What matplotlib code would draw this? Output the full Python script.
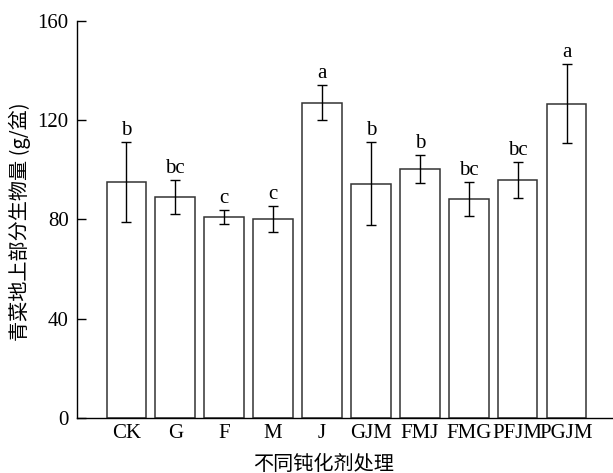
import matplotlib
matplotlib.use('Agg')
import matplotlib.pyplot as plt
import numpy as np

plt.rcParams['font.family'] = ['Liberation Serif', 'Noto Sans CJK SC']

# 数据
treatments = ['CK', 'G', 'F', 'M', 'J', 'GJM', 'FMJ', 'FMG', 'PFJM', 'PGJM']
biomass = [95.0, 89.0, 81.0, 80.0, 127.0, 94.4, 100.3, 88.2, 96.0, 126.6]
err = [16.0, 7.0, 2.7, 5.2, 7.0, 16.7, 5.5, 6.7, 7.3, 16.0]
letters = ['b', 'bc', 'c', 'c', 'a', 'b', 'b', 'bc', 'bc', 'a']
yticks = [0, 40, 80, 120, 160]

fig = plt.figure(figsize=(6.13, 4.73), dpi=100)
ax = fig.add_axes([0.1256, 0.1163, 0.8744, 0.8399])

x = np.arange(len(treatments))
ax.bar(x, biomass, width=0.81, color='white', edgecolor='#333333', linewidth=1.1)
ax.errorbar(x, biomass, yerr=err, fmt='none', ecolor='black',
            elinewidth=1.0, capsize=3.8, capthick=1.0)

# 显著性字母
for xi, y, e, s in zip(x, biomass, err, letters):
    ax.text(xi, y + e + 0.8, s, ha='center', va='bottom', fontsize=15)

ax.set_xlim(-1.01, 9.95)
ax.set_ylim(0, 160)
ax.set_yticks(yticks)
ax.set_xticks(x)
ax.set_xticklabels(treatments, fontsize=15)
ax.tick_params(axis='y', direction='in', length=6.5, width=1.0, pad=6, labelsize=15)
ax.tick_params(axis='x', length=0, pad=4)

ax.spines['top'].set_visible(False)
ax.spines['right'].set_visible(False)
ax.spines['left'].set_linewidth(1.0)
ax.spines['bottom'].set_linewidth(1.0)

fig.text(0.033, 0.531, '青菜地上部分生物量 (g/盆)', rotation=90,
         ha='center', va='center', fontsize=14.5,
         family=['Noto Sans CJK SC', 'Liberation Serif'])
fig.text(0.527, 0.019, '不同钝化剂处理', ha='center', va='center',
         fontsize=14.5, family=['Noto Sans CJK SC'])

fig.savefig('out.png', dpi=100)
